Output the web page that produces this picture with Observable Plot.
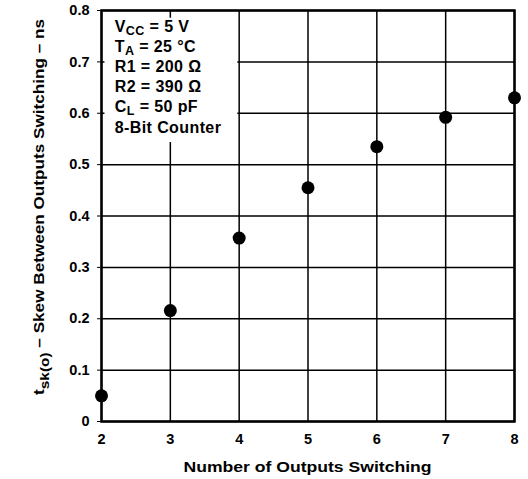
<!DOCTYPE html>
<html><head><meta charset="utf-8">
<script src="https://cdn.jsdelivr.net/npm/d3@7"></script>
<script src="https://cdn.jsdelivr.net/npm/@observablehq/plot@0.6"></script>
<style>
html,body{margin:0;padding:0;background:#fff;}
svg{display:block;}
</style>
</head><body>
<div id="chart"></div>
<script>
const outputsSwitching = [2, 3, 4, 5, 6, 7, 8];
const skewNs = [0.05, 0.216, 0.357, 0.455, 0.535, 0.592, 0.63];
const xTicks = [2, 3, 4, 5, 6, 7, 8];
const yTicks = [0, 0.1, 0.2, 0.3, 0.4, 0.5, 0.6, 0.7, 0.8];
const noteLines = [
  [["V",""],["CC","sub"],[" = 5 V",""]],
  [["T",""],["A","sub"],[" = 25 °C",""]],
  [["R1 = 200 Ω",""]],
  [["R2 = 390 Ω",""]],
  [["C",""],["L","sub"],[" = 50 pF",""]],
  [["8-Bit Counter",""]]
];
const noteBox = {x1: 2.05, x2: 3.98, y1: 0.543, y2: 0.785};

const data = outputsSwitching.map((x, i) => ({x, y: skewNs[i]}));
const font = "'Liberation Sans', Arial, sans-serif";

const chart = Plot.plot({
  width: 528,
  height: 479,
  marginLeft: 101,
  marginRight: 14,
  marginTop: 10,
  marginBottom: 58,
  style: {fontFamily: font, fontSize: "14px", fontWeight: "bold", color: "#000", background: "#fff"},
  x: {domain: [2, 8], ticks: xTicks, tickSize: 0, tickPadding: 12, label: null, tickFormat: d => String(d)},
  y: {domain: [0, 0.8], ticks: yTicks, tickSize: 4, tickPadding: 8, label: null, tickFormat: d => d === 0 ? "0" : d.toFixed(1)},
  marks: [
    Plot.ruleX(xTicks, {stroke: "#000", strokeWidth: 1.5}),
    Plot.ruleY(yTicks, {stroke: "#000", strokeWidth: 1.5}),
    Plot.rect([noteBox], {x1: "x1", x2: "x2", y1: "y1", y2: "y2", fill: "#fff"}),
    Plot.frame({stroke: "#000", strokeWidth: 2.5}),
    Plot.dot(data, {x: "x", y: "y", r: 6.5, fill: "#000", stroke: "none"})
  ]
});
document.getElementById("chart").appendChild(chart);

const svg = d3.select(chart);
const sx = chart.scale("x"), sy = chart.scale("y");
svg.selectAll("g[aria-label$='tick label']").attr("font-size", 14.5).attr("font-weight", "bold");

// annotation
const nx = sx.apply(2.2);
const baseY = [32, 52, 72, 92, 112, 133];
noteLines.forEach((parts, i) => {
  const t = svg.append("text").attr("x", nx).attr("y", baseY[i]).attr("text-anchor", "start")
    .attr("font-family", font).attr("font-size", 16).attr("letter-spacing", 0.4)
    .attr("font-weight", "bold").attr("fill", "#000");
  parts.forEach(([s, kind], j) => {
    const ts = t.append("tspan").text(s);
    if (kind === "sub") ts.attr("font-size", 12.5).attr("dy", 3);
    else if (j > 0) ts.attr("dy", -3);
  });
});

// axis labels
const xMid = (sx.apply(2) + sx.apply(8)) / 2;
svg.append("text").attr("x", xMid).attr("y", 472).attr("text-anchor", "middle")
  .attr("font-family", font).attr("font-size", 15).attr("font-weight", "bold")
  .attr("textLength", 248).attr("lengthAdjust", "spacingAndGlyphs")
  .text("Number of Outputs Switching");

const yl = svg.append("text").attr("transform", `translate(44,207) rotate(-90)`).attr("text-anchor", "middle")
  .attr("font-family", font).attr("font-size", 15).attr("font-weight", "bold")
  .attr("textLength", 376).attr("lengthAdjust", "spacingAndGlyphs");
yl.append("tspan").text("t");
yl.append("tspan").text("sk(o)").attr("dy", 5).attr("font-size", 13.5);
yl.append("tspan").text(" – Skew Between Outputs Switching – ns").attr("dy", -5);
</script>
</body></html>
